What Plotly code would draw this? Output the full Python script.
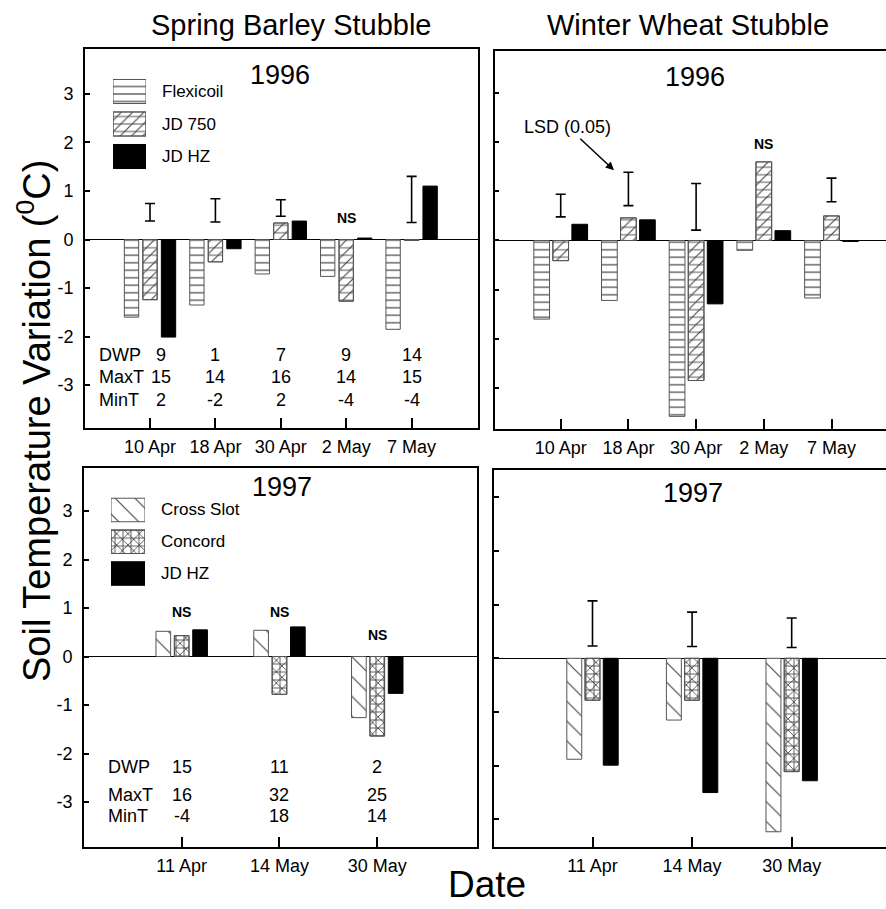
import plotly.graph_objects as go

# ---------------- data ----------------
dates_96 = ["10 Apr", "18 Apr", "30 Apr", "2 May", "7 May"]
dates_97 = ["11 Apr", "14 May", "30 May"]

# Spring barley stubble 1996
sb96_flexicoil = [-1.60, -1.35, -0.71, -0.76, -1.85]
sb96_jd750 = [-1.24, -0.46, 0.34, -1.27, -0.02]
sb96_jdhz = [-2.01, -0.19, 0.38, 0.03, 1.10]
sb96_lsd_lo = [0.38, 0.36, 0.48, None, 0.35]
sb96_lsd_hi = [0.74, 0.84, 0.82, None, 1.30]
sb96_ns = ["2 May"]

# Winter wheat stubble 1996
ww96_flexicoil = [-1.60, -1.22, -3.58, -0.20, -1.17]
ww96_jd750 = [-0.41, 0.46, -2.85, 1.60, 0.50]
ww96_jdhz = [0.33, 0.42, -1.29, 0.20, -0.02]
ww96_lsd_lo = [0.48, 0.71, 0.21, None, 0.79]
ww96_lsd_hi = [0.94, 1.39, 1.16, None, 1.27]
ww96_ns = ["2 May"]

# Spring barley stubble 1997
sb97_crossslot = [0.52, 0.54, -1.26]
sb97_concord = [0.43, -0.78, -1.64]
sb97_jdhz = [0.55, 0.61, -0.76]
sb97_ns = ["11 Apr", "14 May", "30 May"]

# Winter wheat stubble 1997
ww97_crossslot = [-1.88, -1.15, -3.23]
ww97_concord = [-0.78, -0.78, -2.11]
ww97_jdhz = [-1.99, -2.50, -2.28]
ww97_lsd_lo = [0.23, 0.22, 0.20]
ww97_lsd_hi = [1.07, 0.86, 0.75]

# weather rows
wx_rows = ["DWP", "MaxT", "MinT"]
wx96_dwp = [9, 1, 7, 9, 14]
wx96_maxt = [15, 14, 16, 14, 15]
wx96_mint = [2, -2, 2, -4, -4]
wx97_dwp = [15, 11, 2]
wx97_maxt = [16, 32, 25]
wx97_mint = [-4, 18, 14]

legend96 = ["Flexicoil", "JD 750", "JD HZ"]
legend97 = ["Cross Slot", "Concord", "JD HZ"]

y_ticks = [-3, -2, -1, 0, 1, 2, 3]
y_ticktext = ["-3", "-2", "-1", "0", "1", "2", "3"]

# ---------------- styles ----------------
W, H = 886, 909
FONT = "Liberation Sans, Arial, Helvetica, sans-serif"
LINE = "#444"

PAT = {
    "flexi": [dict(shape="-", size=7.5, solidity=0.16)],
    "jd750": [dict(shape="/", size=8, solidity=0.14), dict(shape="-", size=7.5, solidity=0.12)],
    "cross": [dict(shape="\\", size=14, solidity=0.08)],
    "concord": [dict(shape="x", size=8, solidity=0.2), dict(shape="+", size=8, solidity=0.2)],
    "solid": None,
}


def xd(a, b):
    return [a / W, b / W]


def yd(top, bottom):
    return [1 - bottom / H, 1 - top / H]


def ypx(p):
    return 1 - p / H


fig = go.Figure()


def add_series(x, y, xa, ya, width, offset, kind, orientation="v", base=None):
    pats = PAT[kind]
    if pats is None:
        fig.add_trace(go.Bar(
            x=x if orientation == "v" else y, y=y if orientation == "v" else x,
            orientation=orientation, xaxis=xa, yaxis=ya, width=width, offset=offset,
            base=base, marker=dict(color="black", line=dict(color="black", width=1)),
            showlegend=False, hoverinfo="skip"))
        return
    for i, p in enumerate(pats):
        fig.add_trace(go.Bar(
            x=x if orientation == "v" else y, y=y if orientation == "v" else x,
            orientation=orientation, xaxis=xa, yaxis=ya, width=width, offset=offset,
            base=base,
            marker=dict(color=LINE,
                        line=dict(color="#555", width=1),
                        pattern=dict(shape=p["shape"], size=p["size"], solidity=p["solidity"],
                                     bgcolor="white" if i == 0 else "rgba(0,0,0,0)",
                                     fillmode="replace")),
            showlegend=False, hoverinfo="skip"))


def add_group(cats, series, kinds, xa, ya, width, spacing):
    for k, (vals, kind) in enumerate(zip(series, kinds)):
        off = (k - 1) * spacing - width / 2
        add_series(cats, vals, xa, ya, width, off, kind)


def add_lsd(cats, lo, hi, xa, ya):
    xs, mids, halves = [], [], []
    for c, l, h in zip(cats, lo, hi):
        if l is None:
            continue
        xs.append(c)
        mids.append((l + h) / 2)
        halves.append((h - l) / 2)
    fig.add_trace(go.Scatter(
        x=xs, y=mids, xaxis=xa, yaxis=ya, mode="markers",
        marker=dict(size=1, color="rgba(0,0,0,0)"),
        error_y=dict(type="data", array=halves, symmetric=True, color="black",
                     thickness=1.6, width=5),
        showlegend=False, hoverinfo="skip"))


# panels
add_group(dates_96, [sb96_flexicoil, sb96_jd750, sb96_jdhz], ["flexi", "jd750", "solid"],
          "x", "y", 0.219, 0.283)
add_lsd(dates_96, sb96_lsd_lo, sb96_lsd_hi, "x", "y")

add_group(dates_96, [ww96_flexicoil, ww96_jd750, ww96_jdhz], ["flexi", "jd750", "solid"],
          "x2", "y2", 0.232, 0.281)
add_lsd(dates_96, ww96_lsd_lo, ww96_lsd_hi, "x2", "y2")

add_group(dates_97, [sb97_crossslot, sb97_concord, sb97_jdhz], ["cross", "concord", "solid"],
          "x3", "y3", 0.150, 0.188)

add_group(dates_97, [ww97_crossslot, ww97_concord, ww97_jdhz], ["cross", "concord", "solid"],
          "x4", "y4", 0.150, 0.183)
add_lsd(dates_97, ww97_lsd_lo, ww97_lsd_hi, "x4", "y4")

# legend patches (horizontal bars on hidden axes)
for name, kind in zip(legend96, ["flexi", "jd750", "solid"]):
    add_series([name], [1], "x5", "y5", 0.74, -0.37, kind, orientation="h", base=0)
for name, kind in zip(legend97, ["cross", "concord", "solid"]):
    add_series([name], [1], "x6", "y6", 0.74, -0.37, kind, orientation="h", base=0)

# ---------------- axes ----------------
common_x = dict(showgrid=False, showline=True, linecolor="black", linewidth=1.8, mirror=True,
                ticks="inside", ticklen=10, tickwidth=1.5, tickcolor="black",
                tickfont=dict(size=18, family=FONT, color="black"), type="category",
                ticklabelstandoff=1, fixedrange=True)
common_y = dict(showgrid=False, showline=True, linecolor="black", linewidth=1.8,
                ticks="inside", ticklen=5, tickwidth=1.5, tickcolor="black",
                tickvals=y_ticks, ticktext=y_ticktext,
                tickfont=dict(size=18, family=FONT, color="black"),
                zeroline=True, zerolinecolor="black", zerolinewidth=1, ticklabelstandoff=6,
                fixedrange=True)

fig.update_layout(
    xaxis=dict(common_x, domain=xd(85, 478), range=[-0.994, 5.015], anchor="y"),
    yaxis=dict(common_y, domain=yd(49, 428), range=[-3.883, 3.924], anchor="x", mirror=True),
    xaxis2=dict(common_x, domain=xd(494.5, 886), range=[-0.978, 4.805], anchor="y2"),
    yaxis2=dict(common_y, domain=yd(51, 429), range=[-3.837, 3.857], anchor="x2",
                showticklabels=False, mirror=False),
    xaxis3=dict(common_x, domain=xd(84, 477), range=[-0.999, 3.02], anchor="y3"),
    yaxis3=dict(common_y, domain=yd(468, 847), range=[-3.928, 3.887], anchor="x3", mirror=True),
    xaxis4=dict(common_x, domain=xd(494, 886), range=[-0.989, 2.947], anchor="y4"),
    yaxis4=dict(common_y, domain=yd(470, 847), range=[-3.514, 3.507], anchor="x4",
                showticklabels=False, mirror=False),
    xaxis5=dict(domain=xd(113, 146), range=[0, 1], visible=False, anchor="y5", fixedrange=True),
    yaxis5=dict(domain=yd(75.25, 172.75), range=[2.5, -0.5], visible=False, anchor="x5",
                type="category", categoryarray=legend96, fixedrange=True),
    xaxis6=dict(domain=xd(111, 145), range=[0, 1], visible=False, anchor="y6", fixedrange=True),
    yaxis6=dict(domain=yd(494.1, 589.4), range=[2.5, -0.5], visible=False, anchor="x6",
                type="category", categoryarray=legend97, fixedrange=True),
    barmode="overlay",
    width=W, height=H,
    margin=dict(l=0, r=0, t=0, b=0),
    paper_bgcolor="white", plot_bgcolor="white",
    font=dict(family=FONT, color="black"),
    template="none",
)

ann = []


def text(x, y, s, size, xref="paper", yref="paper", **kw):
    d = dict(x=x, y=y, text=s, xref=xref, yref=yref, showarrow=False,
             xanchor="center", yanchor="middle",
             font=dict(size=size, family=FONT, color="black"))
    d.update(kw)
    ann.append(d)


# column titles
text(291 / W, ypx(25), "Spring Barley Stubble", 29)
text(688 / W, ypx(25), "Winter Wheat Stubble", 29)
# panel years
text(280 / W, ypx(75), "1996", 27)
text(695 / W, ypx(77), "1996", 27)
text(282 / W, ypx(487), "1997", 27)
text(693 / W, ypx(493), "1997", 27)
# axis titles
text(34 / W, ypx(421), "Soil Temperature Variation (<sup>0</sup>C)", 38, textangle=-90)
text(487 / W, ypx(884), "Date", 37)

# legend labels
for name in legend96:
    text(1, name, name, 17, xref="x5", yref="y5", xanchor="left", xshift=14)
for name in legend97:
    text(1, name, name, 17, xref="x6", yref="y6", xanchor="left", xshift=14)

# NS labels
ns_font = dict(size=14, family=FONT, color="black", weight="bold")
for c in sb96_ns:
    ann.append(dict(x=c, y=0.44, xref="x", yref="y", text="NS", showarrow=False, font=ns_font))
for c in ww96_ns:
    ann.append(dict(x=c, y=1.96, xref="x2", yref="y2", text="NS", showarrow=False, font=ns_font))
for c, yv in zip(sb97_ns, [0.92, 0.92, 0.44]):
    ann.append(dict(x=c, y=yv, xref="x3", yref="y3", text="NS", showarrow=False, font=ns_font))

# LSD arrow
ann.append(dict(x=0.787, y=1.43, xref="x2", yref="y2", ax=-46, ay=-43,
                text="LSD (0.05)", showarrow=True, arrowhead=2, arrowsize=1.1,
                arrowwidth=1.5, arrowcolor="black",
                font=dict(size=18, family=FONT, color="black")))

# weather tables
rows96 = [wx96_dwp, wx96_maxt, wx96_mint]
ys96 = [-2.37, -2.84, -3.30]
for lab, vals, yv in zip(wx_rows, rows96, ys96):
    text(0.03, yv, lab, 18, xref="x domain", yref="y", xanchor="left")
    for i, (c, v) in enumerate(zip(dates_96, vals)):
        text(c, yv, str(v), 18, xref="x", yref="y", xshift=11 if i == 0 else 0)

rows97 = [wx97_dwp, wx97_maxt, wx97_mint]
ys97 = [-2.27, -2.85, -3.28]
for lab, vals, yv in zip(wx_rows, rows97, ys97):
    text(0.056, yv, lab, 18, xref="x3 domain", yref="y3", xanchor="left")
    for c, v in zip(dates_97, vals):
        text(c, yv, str(v), 18, xref="x3", yref="y3")

fig.update_layout(annotations=ann)

fig.write_html("out.html", include_plotlyjs=True, config={"displayModeBar": False},
               post_script="document.body.style.margin='0px';")
